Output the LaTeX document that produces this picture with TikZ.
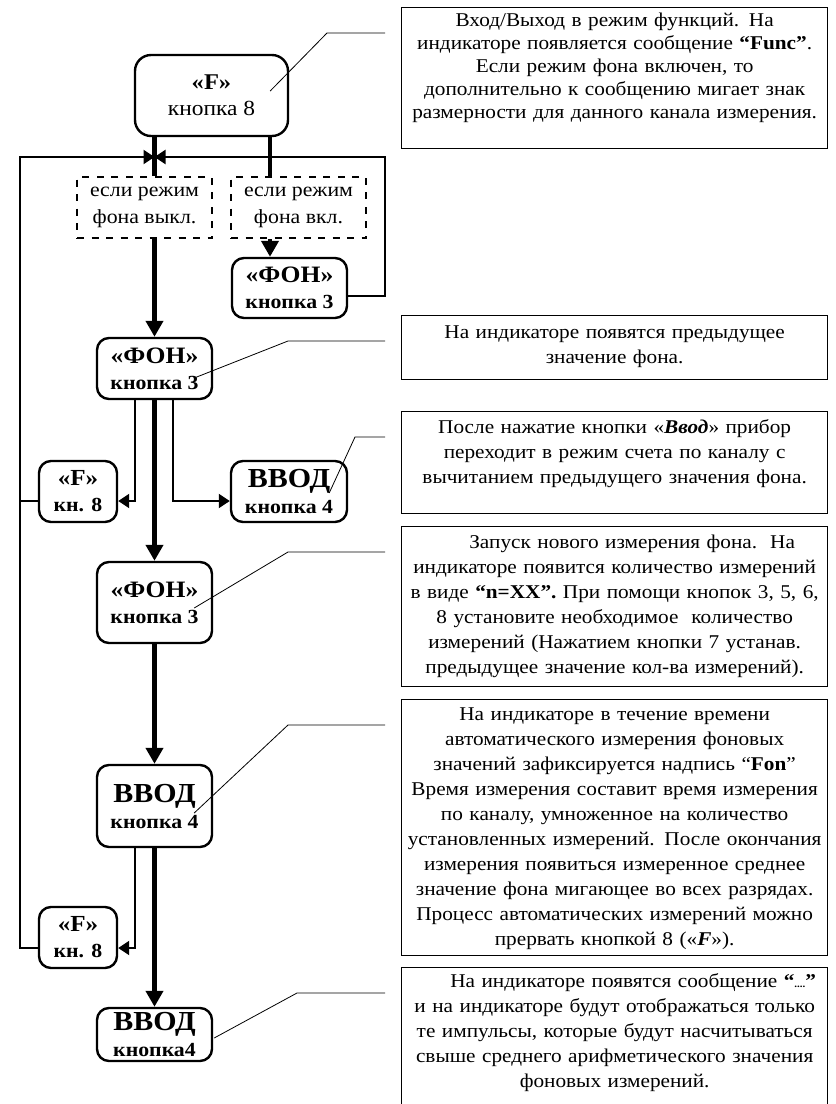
\documentclass[tikz,border=0pt]{standalone}
\usepackage{graphicx}
\usepackage{fontspec}
\setmainfont{Liberation Serif}[FakeStretch=1.09]
\usetikzlibrary{arrows.meta,calc,positioning}

\newcommand{\kh}[2][23.5]{{\fontsize{#1}{#1}\selectfont\bfseries #2}}
\newcommand{\kb}[2][20]{{\fontsize{#1}{#1}\selectfont\bfseries #2}}

\tikzset{
  btn/.style={draw, line width=2.4pt, rounded corners=12pt, align=center, inner sep=0pt,
    minimum width=115pt, minimum height=61pt, font=\fontsize{21.5}{26}\selectfont},
  cond/.style={draw, line width=2.6pt, dash pattern=on 7pt off 7.5pt, align=center, inner sep=0pt,
    minimum width=135pt, minimum height=61pt, font=\fontsize{20}{26.5}\selectfont},
  note/.style={draw, line width=1.3pt, inner sep=0pt, anchor=north west, minimum width=426pt},
  notetext/.style={text width=440pt, align=center, inner sep=0pt, font=\fontsize{19.5}{24.9}\selectfont},
  bar/.style={line width=4.6pt},
  flow/.style={line width=4.6pt, -{Triangle[length=16pt,width=17pt]}},
  link/.style={line width=2pt},
  jump/.style={line width=2pt, -{Triangle[length=11pt,width=14pt]}},
  lead/.style={line width=0.8pt},
}

\begin{document}
\begin{tikzpicture}[x=1pt,y=-1pt]
\useasboundingbox (0,0) rectangle (836,1104);

% keys
\node[btn, minimum width=153pt, minimum height=81pt, rounded corners=16pt] (f1) at (211.5,95.5) {\kh[22.5]{«F»}\\кнопка 8};
\node[cond] (d1) at (144.5,207.5) {если режим\\фона выкл.};
\node[cond] (d2) at (298.5,207.5) {если режим\\фона вкл.};
\node[btn, minimum height=60pt] (fon0) at (289.5,288) {\kh{«ФОН»}\\\kb{кнопка 3}};
\node[btn] (fon1) at (154.5,368.5) {\kh{«ФОН»}\\\kb{кнопка 3}};
\node[btn, minimum width=78pt] (fk1) at (78,491.5) {\kh[23]{«F»}\\\kb{кн. 8}};
\node[btn, minimum width=116pt] (vvod0) at (289,491.5) {\kh[27.5]{ВВОД}\\\kb{кнопка 4}};
\node[btn, minimum height=81pt] (fon2) at (154.5,602.5) {\kh{«ФОН»}\\\kb{кнопка 3}};
\node[btn, minimum height=82pt] (vvod1) at (154.5,806) {\kh[27.5]{ВВОД}\\\kb{кнопка 4}};
\node[btn, minimum width=78pt] (fk2) at (78,937.5) {\kh[23]{«F»}\\\kb{кн. 8}};
\node[btn, minimum height=53pt] (vvod2) at (154.5,1034.5) {\kh[27.5]{ВВОД}\\\kb{кнопка4}};

% notes
\node[note, minimum height=141pt] (n1) at (401,7) {};
\node[notetext, font=\fontsize{19.5}{23}\selectfont, below=3pt of n1.north] (t1) {\strut Вход/Выход в режим функций. На\\
  индикаторе появляется сообщение \textbf{“Func”}.\\
  Если режим фона включен, то\\
  дополнительно к сообщению мигает знак\\
  размерности для данного канала измерения.};
\node[note, minimum height=64pt] (n2) at (401,315) {};
\node[notetext, below=5.9pt of n2.north] (t2) {\strut На индикаторе появятся предыдущее\\
  значение фона.};
\node[note, minimum height=102pt] (n3) at (401,411) {};
\node[notetext, below=4.9pt of n3.north] (t3) {\strut После нажатие кнопки «\textbf{\textit{Ввод}}» прибор\\
  переходит в режим счета по каналу с\\
  вычитанием предыдущего значения фона.};
\node[note, minimum height=160pt] (n4) at (401,526) {};
\node[notetext, below=4.9pt of n4.north] (t4) {\strut\hspace*{35pt}Запуск нового измерения фона.\ \ На\\
  индикаторе появится количество измерений\\
  в виде \textbf{“n=XX”.} При помощи кнопок 3, 5, 6,\\
  8 установите необходимое\ \ количество\\
  измерений (Нажатием кнопки 7 устанав.\\
  предыдущее значение кол-ва измерений).};
\node[note, minimum height=256pt] (n5) at (401,699) {};
\node[notetext, below=4.3pt of n5.north] (t5) {\strut На индикаторе в течение времени\\
  автоматического измерения фоновых\\
  значений зафиксируется надпись “\textbf{Fon}”\\
  Время измерения составит время измерения\\
  по каналу, умноженное на количество\\
  установленных измерений. После окончания\\
  измерения появиться измеренное среднее\\
  значение фона мигающее во всех разрядах.\\
  Процесс автоматических измерений можно\\
  прервать кнопкой 8 («\textbf{\textit{F}}»).};
\node[note, minimum height=150pt] (n6) at (401,967) {};
\node[notetext, below=3pt of n6.north] (t6) {\strut\hspace*{37pt}На индикаторе появятся сообщение \textbf{“}{\fontsize{10}{10}\selectfont\bfseries ....}\textbf{”}\\
  и на индикаторе будут отображаться только\\
  те импульсы, которые будут насчитываться\\
  свыше среднего арифметического значения\\
  фоновых измерений.};

% main path
\draw[bar] ([xshift=-57pt]f1.south) -- ([xshift=-57pt]f1.south |- d1.north);
\draw[bar] ([xshift=58.5pt]f1.south) -- ([xshift=58.5pt]f1.south |- d2.north);
\draw[flow] ([xshift=-28.5pt]d2.south) -- ([xshift=-19.5pt]fon0.north);
\draw[flow] (fon1.north |- d1.south) -- (fon1.north);
\draw[flow] (fon1) -- (fon2);
\draw[flow] (fon2) -- (vvod1);
\draw[flow] (vvod1) -- (vvod2);

% side branches
\draw[jump] ([xshift=-19.5pt]fon1.south) |- ($(fk1.east)+(0,9.5)$);
\draw[jump] ([xshift=18.5pt]fon1.south) |- ($(vvod0.west)+(0,9.5)$);
\draw[jump] ([xshift=-19.5pt]vvod1.south) |- ($(fk2.east)+(0,10.5)$);

% return loops
\coordinate (merge) at (154.5,157);
\coordinate (loopL) at (20,157);
\coordinate (loopR) at (385,157);
\draw[link] ($(fk1.west)+(0,9.5)$) -- ++(-19,0);
\draw[jump] ($(fk2.west)+(0,10.5)$) -| (loopL) -- (merge);
\draw[jump] ($(fon0.east)+(0,8)$) -| (loopR) -- (merge);

% callout lines
\draw[lead] ($(f1.east)+(-19,-4.5)$) -- (327,33) -- ($(n1.north west)+(-16,26)$);
\draw[lead] ($(fon1.east)+(-19,9.5)$) -- (288,341) -- ($(n2.north west)+(-16,26)$);
\draw[lead] ($(vvod0.east)+(-19,1.5)$) -- (355,437) -- ($(n3.north west)+(-16,26)$);
\draw[lead] ($(fon2.east)+(-19,5.5)$) -- (288,552) -- ($(n4.north west)+(-16,26)$);
\draw[lead] ($(vvod1.east)+(-19,7)$) -- (288,725) -- ($(n5.north west)+(-16,26)$);
\draw[lead] ($(vvod2.east)+(1,3.5)$) -- (297,993) -- ($(n6.north west)+(-16,26)$);
\end{tikzpicture}
\end{document}
